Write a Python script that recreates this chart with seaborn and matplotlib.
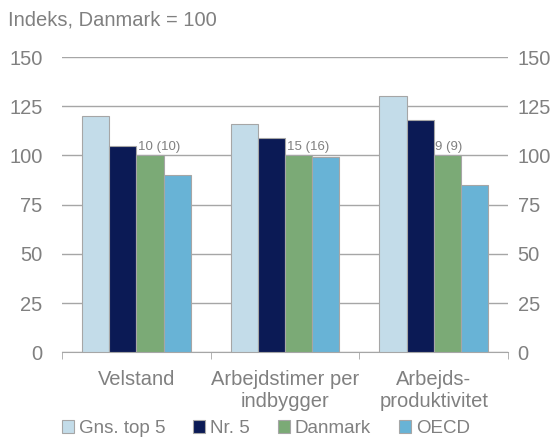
import seaborn as sns
import matplotlib.pyplot as plt
import pandas as pd

kategorier = ['Velstand', 'Arbejdstimer per\nindbygger', 'Arbejds-\nproduktivitet']
serier = ['Gns. top 5', 'Nr. 5', 'Danmark', 'OECD']
gns_top5 = [120, 116, 130]
nr5 = [105, 109, 118]
danmark = [100, 100, 100]
oecd = [90, 99, 85]
placering = ['10 (10)', '15 (16)', '9 (9)']
yticks = [0, 25, 50, 75, 100, 125, 150]

farver = ['#C3DCE9', '#0B1A55', '#7BAA76', '#68B3D6']
grå = '#808080'

df = pd.DataFrame({
    'kategori': kategorier * 4,
    'serie': [s for s in serier for _ in kategorier],
    'værdi': gns_top5 + nr5 + danmark + oecd,
})

plt.rcParams['font.family'] = ['Liberation Sans', 'DejaVu Sans']
fig = plt.figure(figsize=(5.54, 4.43), dpi=100)
ax = fig.add_axes([0.112, 0.205, 0.805, 0.666])

sns.barplot(data=df, x='kategori', y='værdi', hue='serie', palette=farver,
            saturation=1, width=0.73, gap=0, edgecolor='#A6A6A6', linewidth=0.8,
            ax=ax, zorder=3)

ax.set_ylim(0, 150)
ax.set_xlim(-0.5, 2.5)
ax.set_yticks(yticks)
ax.grid(axis='y', color='#A6A6A6', linewidth=1, zorder=0)
ax.set_axisbelow(True)
ax.set_xlabel('')
ax.set_ylabel('')
for s in ['top', 'right', 'left']:
    ax.spines[s].set_visible(False)
ax.spines['bottom'].set_color('#A6A6A6')
ax.tick_params(axis='y', length=0, labelsize=14.5, labelcolor=grå, pad=14)
ax.tick_params(axis='x', which='major', length=0, labelsize=14.5, labelcolor=grå, pad=13)
ax.set_xticks([-0.5, 0.5, 1.5, 2.5], minor=True)
ax.tick_params(axis='x', which='minor', length=5, color='#A6A6A6')

ax2 = ax.twinx()
ax2.set_ylim(0, 150)
ax2.set_yticks(yticks)
ax2.tick_params(axis='y', length=0, labelsize=14.5, labelcolor=grå, pad=7)
for s in ax2.spines.values():
    s.set_visible(False)

# placering af Danmark over søjlen
dk_bars = ax.containers[2]
for bar, txt in zip(dk_bars, placering):
    ax.text(bar.get_x() + 0.01, bar.get_height() + 1.5, txt, ha='left', va='bottom',
            fontsize=9.5, color=grå, zorder=4)

ax.legend(loc='lower center', bbox_to_anchor=(0.48, -0.008), bbox_transform=fig.transFigure,
          ncol=4, frameon=False, fontsize=13.5, labelcolor=grå, handlelength=0.65,
          handleheight=0.65, handletextpad=0.25, columnspacing=1.5, borderaxespad=0.1)

fig.text(0.015, 0.955, 'Indeks, Danmark = 100', fontsize=14.5, color=grå, ha='left', va='center')

fig.savefig('out.png', dpi=100)
